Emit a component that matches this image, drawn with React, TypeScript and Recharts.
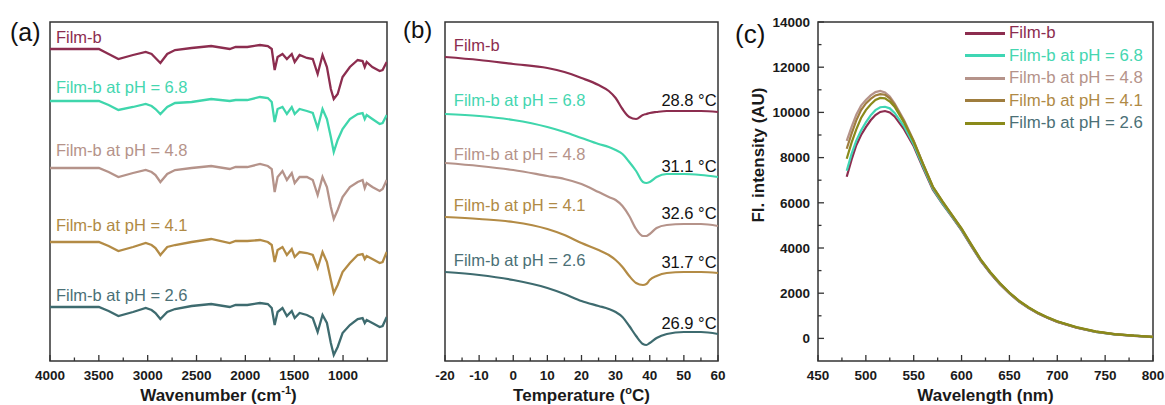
import {
  LineChart,
  Line,
  XAxis,
  YAxis,
  ReferenceArea,
  ReferenceDot,
  Legend,
} from "recharts";

const FONT = "Arial, 'Liberation Sans', Helvetica, sans-serif";
const AXIS = "#333";

const seriesNames = [
  "Film-b",
  "Film-b at pH = 6.8",
  "Film-b at pH = 4.8",
  "Film-b at pH = 4.1",
  "Film-b at pH = 2.6",
];
const seriesKeys = ["s0", "s1", "s2", "s3", "s4"];
const lineColors = ["#8c2d4f", "#3fd6ac", "#b5938a", "#b38b45", "#3e6b6f"];
const textColors = ["#8c2d4f", "#45d6b0", "#b5938a", "#b08a45", "#4b7076"];
const flColors = ["#8c2d4f", "#3fd6b4", "#b5938a", "#9f7d3e", "#8a8a1a"];

// (a) FTIR, offset transmittance (a.u.)
const wavenumbers = [
  4000, 3800, 3500, 3400, 3300, 3150, 3020, 2960, 2920, 2870, 2800, 2720, 2550, 2350, 2160,
  2100, 1980, 1850, 1770, 1730, 1700, 1670, 1620, 1575, 1525, 1495, 1445, 1370, 1310, 1260,
  1210, 1165, 1125, 1095, 1055, 1005, 930, 850, 800, 778, 758, 700, 625, 595, 553,
];
const ftirFilmB = [
  312, 312, 312, 307, 302, 306, 309, 307, 303, 298, 307, 311, 313, 315, 312,
  314, 314, 316, 315, 312, 291, 304, 307, 302, 307, 299, 306, 303, 302, 287,
  306, 294, 272, 262, 267, 284, 294, 301, 300, 294, 299, 294, 290, 291, 299,
];
const ftirPH68 = [
  260, 260, 260, 256, 251, 254, 257, 255, 252, 247, 254, 258, 259, 262, 260,
  261, 261, 264, 263, 259, 239, 252, 254, 247, 254, 247, 252, 250, 248, 233,
  252, 242, 224, 209, 221, 232, 242, 247, 248, 242, 246, 242, 237, 238, 246,
];
const ftirPH48 = [
  193, 193, 193, 189, 184, 188, 191, 189, 186, 179, 187, 191, 193, 195, 192,
  194, 194, 197, 195, 192, 169, 184, 190, 181, 188, 178, 184, 184, 181, 166,
  184, 174, 154, 142, 151, 164, 174, 179, 181, 173, 178, 174, 170, 172, 181,
];
const ftirPH41 = [
  119, 119, 119, 115, 110, 114, 118, 116, 113, 106, 114, 116, 119, 122, 118,
  120, 120, 121, 119, 116, 99, 111, 114, 106, 112, 104, 109, 108, 106, 93,
  109, 99, 81, 68, 76, 89, 98, 106, 107, 102, 105, 102, 98, 99, 109,
];
const ftirPH26 = [
  54, 54, 54, 50, 45, 49, 53, 51, 48, 42, 49, 52, 55, 57, 54,
  56, 56, 58, 57, 53, 36, 49, 53, 45, 50, 43, 48, 46, 43, 29,
  46, 38, 18, 6, 14, 28, 36, 42, 43, 38, 41, 38, 34, 35, 44,
];
const ftirTicks = [4000, 3750, 3500, 3250, 3000, 2750, 2500, 2250, 2000, 1750, 1500, 1250, 1000, 750];
const ftirMajor = [4000, 3500, 3000, 2500, 2000, 1500, 1000];
const ftirLabelY = [324, 274, 211, 136, 66];

// (b) DSC, offset heat flow (a.u.)
const temps = [-20, -10, 0, 10, 15, 20, 25, 28, 30, 32, 34, 36, 38, 39, 40, 42, 45, 50, 55, 60];
const dscFilmB = [304, 301, 297, 293, 289, 283, 276, 270, 263, 252, 244, 242, 246, 247, 248, 249, 250, 250, 250, 249];
const dscPH68 = [247, 245, 241, 234, 229, 223, 217, 214, 211, 207, 199, 190, 179, 178, 179, 184, 187, 187, 186, 184];
const dscPH48 = [198, 195, 191, 185, 182, 177, 169, 164, 161, 155, 145, 132, 125, 125, 127, 133, 136, 137, 137, 135];
const dscPH41 = [144, 142, 139, 132, 126, 118, 111, 106, 101, 94, 85, 78, 76, 77, 81, 85, 88, 89, 89, 88];
const dscPH26 = [89, 86, 81, 73, 67, 60, 55, 52, 49, 44, 35, 25, 17, 16, 18, 23, 27, 29, 29, 27];
const dscTicks = [-20, -15, -10, -5, 0, 5, 10, 15, 20, 25, 30, 35, 40, 45, 50, 55, 60];
const onsetTemps = ["28.8", "31.1", "32.6", "31.7", "26.9"];
const dscLabelY = [316, 261, 207, 156, 101];
const onsetLabelY = [261, 195, 148, 99, 38];

// (c) fluorescence emission
const wavelengths = [
  480, 485, 490, 495, 500, 505, 510, 515, 520, 525, 530, 540, 550, 560, 570, 580, 590,
  600, 610, 620, 630, 640, 650, 660, 670, 680, 690, 700, 720, 740, 760, 780, 800,
];
const flFilmB = [
  7150, 7900, 8550, 9000, 9350, 9650, 9880, 10020, 10060, 10000, 9820, 9250, 8500, 7520, 6580, 5950, 5380,
  4780, 4090, 3430, 2880, 2400, 1990, 1630, 1340, 1100, 900, 730, 470, 290, 180, 110, 60,
];
const flPH68 = [
  7420, 8150, 8750, 9200, 9560, 9870, 10100, 10230, 10250, 10180, 9980, 9380, 8580, 7580, 6620, 5980, 5400,
  4800, 4110, 3450, 2900, 2420, 2000, 1640, 1350, 1110, 910, 740, 480, 290, 180, 120, 60,
];
const flPH48 = [
  8740, 9350, 9900, 10300, 10550, 10750, 10900, 10950, 10880, 10700, 10400, 9650, 8750, 7700, 6700, 6050, 5450,
  4850, 4150, 3480, 2920, 2440, 2010, 1650, 1360, 1120, 920, 750, 490, 300, 190, 120, 70,
];
const flPH41 = [
  8390, 9050, 9650, 10100, 10400, 10600, 10750, 10810, 10780, 10620, 10350, 9600, 8720, 7680, 6690, 6040, 5440,
  4840, 4140, 3470, 2910, 2430, 2010, 1650, 1360, 1110, 910, 740, 480, 300, 180, 120, 70,
];
const flPH26 = [
  7950, 8650, 9250, 9750, 10100, 10350, 10550, 10640, 10620, 10480, 10250, 9550, 8700, 7700, 6720, 6070, 5470,
  4870, 4170, 3500, 2940, 2450, 2030, 1670, 1380, 1130, 930, 760, 500, 310, 190, 120, 70,
];
const flXTicks = [450, 475, 500, 525, 550, 575, 600, 625, 650, 675, 700, 725, 750, 775, 800];
const flYTicks = [0, 1000, 2000, 3000, 4000, 5000, 6000, 7000, 8000, 9000, 10000, 11000, 12000, 13000, 14000];

const buildRows = (xs: number[], key: string, series: number[][]) =>
  xs.map((x, i) => {
    const row: Record<string, number> = { [key]: x };
    series.forEach((s, j) => (row[seriesKeys[j]] = s[i]));
    return row;
  });

const ftirRows = buildRows(wavenumbers, "wn", [ftirFilmB, ftirPH68, ftirPH48, ftirPH41, ftirPH26]);
const dscRows = buildRows(temps, "t", [dscFilmB, dscPH68, dscPH48, dscPH41, dscPH26]);
const flRows = buildRows(wavelengths, "nm", [flFilmB, flPH68, flPH48, flPH41, flPH26]);

// inward ticks on the bottom axis, labels only on the major ones
const bottomTick = (isMajor: (v: number) => boolean) => (props: any) => {
  const { x, y, payload } = props;
  const major = isMajor(payload.value);
  return (
    <g>
      <line x1={x} x2={x} y1={y} y2={y - (major ? 6 : 3.5)} stroke={AXIS} strokeWidth={1.3} />
      {major && (
        <text x={x} y={y + 19} textAnchor="middle" fontFamily={FONT} fontWeight="bold" fontSize={13.5} fill="#1a1a1a">
          {payload.value}
        </text>
      )}
    </g>
  );
};

const leftTick = (props: any) => {
  const { x, y, payload } = props;
  const major = payload.value % 2000 === 0;
  return (
    <g>
      <line x1={x} x2={x + (major ? 6 : 3.5)} y1={y} y2={y} stroke={AXIS} strokeWidth={1.3} />
      {major && (
        <text x={x - 8} y={y} dy={4.8} textAnchor="end" fontFamily={FONT} fontWeight="bold" fontSize={13.5} fill="#1a1a1a">
          {payload.value}
        </text>
      )}
    </g>
  );
};

const axisTitle = (parts: React.ReactNode) => (props: any) => {
  const { x, y, width } = props.viewBox;
  return (
    <text x={x + width / 2} y={y + 40} textAnchor="middle" fontFamily={FONT} fontWeight="bold" fontSize={17} fill="#1a1a1a">
      {parts}
    </text>
  );
};

const textAt = (key: string, x: number, y: number, text: string, color: string, anchor: "start" | "end") => (
  <ReferenceDot
    key={key}
    x={x}
    y={y}
    r={0}
    fill="none"
    stroke="none"
    ifOverflow="visible"
    label={(p: any) => (
      <text
        x={p.viewBox.x}
        y={p.viewBox.y}
        textAnchor={anchor}
        dominantBaseline="central"
        fontFamily={FONT}
        fontSize={16.5}
        fill={color}
      >
        {text}
      </text>
    )}
  />
);

const panelLetter = (text: string, left: number, top: number, size: number) => (
  <div style={{ position: "absolute", left, top, fontSize: size, lineHeight: 1, fontFamily: FONT, color: "#111" }}>
    {text}
  </div>
);

function FtirChart() {
  return (
    <LineChart width={400} height={405} data={ftirRows} margin={{ top: 22, right: 13, bottom: 0, left: 50 }}>
      <XAxis
        type="number"
        dataKey="wn"
        domain={[550, 4000]}
        reversed
        allowDataOverflow
        ticks={ftirTicks}
        interval={0}
        tickSize={0}
        tickMargin={0}
        tickLine={false}
        axisLine={false}
        height={44}
        tick={bottomTick((v) => ftirMajor.includes(v))}
        label={axisTitle(
          <>
            Wavenumber (cm
            <tspan dy={-7} fontSize={11}>-1</tspan>
            <tspan dy={7}>)</tspan>
          </>
        )}
      />
      <YAxis hide type="number" domain={[0, 339]} allowDataOverflow />
      {seriesKeys.map((k, i) => (
        <Line key={k} dataKey={k} type="linear" stroke={lineColors[i]} strokeWidth={2.3} dot={false} isAnimationActive={false} />
      ))}
      {seriesNames.map((n, i) => textAt(`a${i}`, 3939, ftirLabelY[i], n, textColors[i], "start"))}
      <ReferenceArea x1={550} x2={4000} y1={0} y2={339} fill="none" stroke={AXIS} strokeWidth={1.5} ifOverflow="visible" />
    </LineChart>
  );
}

function DscChart() {
  return (
    <LineChart width={335} height={405} data={dscRows} margin={{ top: 22, right: 12, bottom: 0, left: 50 }}>
      <XAxis
        type="number"
        dataKey="t"
        domain={[-20, 60]}
        allowDataOverflow
        ticks={dscTicks}
        interval={0}
        tickSize={0}
        tickMargin={0}
        tickLine={false}
        axisLine={false}
        height={44}
        tick={bottomTick((v) => v % 10 === 0)}
        label={axisTitle(
          <>
            Temperature (
            <tspan dy={-7} fontSize={11}>o</tspan>
            <tspan dy={7}>C)</tspan>
          </>
        )}
      />
      <YAxis hide type="number" domain={[0, 339]} allowDataOverflow />
      {seriesKeys.map((k, i) => (
        <Line key={k} dataKey={k} type="monotone" stroke={lineColors[i]} strokeWidth={2.2} dot={false} isAnimationActive={false} />
      ))}
      {seriesNames.map((n, i) => textAt(`b${i}`, -17.4, dscLabelY[i], n, textColors[i], "start"))}
      {onsetTemps.map((t, i) => textAt(`o${i}`, 59.6, onsetLabelY[i], `${t} °C`, "#111", "end"))}
      <ReferenceArea x1={-20} x2={60} y1={0} y2={339} fill="none" stroke={AXIS} strokeWidth={1.5} ifOverflow="visible" />
    </LineChart>
  );
}

// legend rows kept in series order, line in the series colour, text in the label colour
const flLegend = (props: any) => {
  const entries = [...(props.payload || [])].sort(
    (a: any, b: any) => seriesNames.indexOf(a.value) - seriesNames.indexOf(b.value)
  );
  return (
    <div style={{ fontFamily: FONT, fontSize: 16.8 }}>
      {entries.map((entry: any) => {
        const i = seriesNames.indexOf(entry.value);
        return (
          <div key={entry.value} style={{ display: "flex", alignItems: "center", height: 22.5 }}>
            <span style={{ display: "inline-block", width: 40, height: 3, background: flColors[i], marginRight: 4 }} />
            <span style={{ color: textColors[i], whiteSpace: "nowrap" }}>{entry.value}</span>
          </div>
        );
      })}
    </div>
  );
};

function FlChart() {
  return (
    <LineChart width={435} height={405} data={flRows} margin={{ top: 22, right: 12, bottom: 0, left: 0 }}>
      <XAxis
        type="number"
        dataKey="nm"
        domain={[450, 800]}
        allowDataOverflow
        ticks={flXTicks}
        interval={0}
        tickSize={0}
        tickMargin={0}
        tickLine={false}
        axisLine={false}
        height={44}
        tick={bottomTick((v) => v % 50 === 0)}
        label={axisTitle("Wavelength (nm)")}
      />
      <YAxis
        type="number"
        domain={[-1000, 14000]}
        allowDataOverflow
        ticks={flYTicks}
        interval={0}
        tickSize={0}
        tickMargin={0}
        tickLine={false}
        axisLine={false}
        width={88}
        tick={leftTick}
        label={() => (
          <text
            x={28}
            y={155}
            transform="rotate(-90 28 155)"
            textAnchor="middle"
            dominantBaseline="central"
            fontFamily={FONT}
            fontWeight="bold"
            fontSize={17}
            fill="#1a1a1a"
          >
            Fl. intensity (AU)
          </text>
        )}
      />
      {seriesKeys.map((k, i) => (
        <Line
          key={k}
          dataKey={k}
          name={seriesNames[i]}
          type="linear"
          stroke={flColors[i]}
          strokeWidth={2.2}
          dot={false}
          isAnimationActive={false}
        />
      ))}
      <ReferenceArea x1={450} x2={800} y1={-1000} y2={14000} fill="none" stroke={AXIS} strokeWidth={1.5} ifOverflow="visible" />
      <Legend
        layout="vertical"
        align="center"
        verticalAlign="middle"
        wrapperStyle={{ top: 22, left: 235, width: "auto", height: "auto" }}
        content={flLegend}
      />
    </LineChart>
  );
}

export default function App() {
  return (
    <div style={{ position: "absolute", left: 0, top: 0, width: 1165, height: 405, background: "#fff", overflow: "hidden" }}>
      <div style={{ position: "absolute", left: 0, top: 0 }}>
        <FtirChart />
      </div>
      <div style={{ position: "absolute", left: 395, top: 0 }}>
        <DscChart />
      </div>
      <div style={{ position: "absolute", left: 730, top: 0 }}>
        <FlChart />
      </div>
      {panelLetter("(a)", 10, 20, 25)}
      {panelLetter("(b)", 403, 18, 24)}
      {panelLetter("(c)", 735, 21, 26)}
    </div>
  );
}
